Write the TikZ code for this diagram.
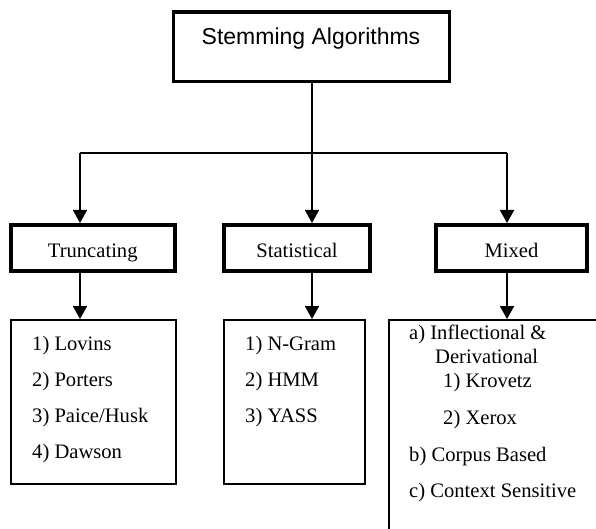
\documentclass[tikz,border=0pt]{standalone}
\usepackage{fontspec}
\setmainfont{Liberation Serif}
\newfontfamily\arialfont{Liberation Sans}
\usetikzlibrary{arrows.meta}
\tikzset{
  topbox/.style={draw, line width=3.5pt, minimum width=276pt, minimum height=69.5pt, inner sep=0pt},
  catbox/.style={draw, line width=4pt, minimum height=46pt, inner sep=0pt, text height=18pt, text depth=0pt, font=\fontsize{20.6}{24}\selectfont},
  listbox/.style={draw, line width=2pt, minimum height=164pt, inner sep=0pt},
  item/.style={anchor=base west, inner sep=0pt, font=\fontsize{20.6}{24}\selectfont},
  conn/.style={line width=2pt},
  arr/.style={line width=2pt, -{Triangle[length=13pt, width=14pt]}}
}
\begin{document}
\begin{tikzpicture}[x=1pt, y=-1pt]
\useasboundingbox (0,0) rectangle (596,529);
\clip (0,0) rectangle (596,529);
% top
\node[topbox] (top) at (311.5,46.75) {};
\node[anchor=base, inner sep=0pt, font=\arialfont\fontsize{23}{27}\selectfont] (title) at (311,45) {Stemming Algorithms};
% categories
\node[catbox, minimum width=164.5pt] (trunc) at (92.75,248) {Truncating};
\node[catbox, minimum width=146pt] (stat) at (297,248) {Statistical};
\node[catbox, minimum width=151pt] (mixed) at (511.5,248) {Mixed};
% lists
\node[listbox, minimum width=165pt] (lov) at (93.5,402) {};
\node[listbox, minimum width=141pt] (ngl) at (294.5,402) {};
\node[listbox, minimum width=221pt, minimum height=240pt] (mxl) at (499.5,440) {};
% connectors
\coordinate (jL) at (80,153);
\coordinate (jC) at (312,153);
\coordinate (jR) at (507,153);
\draw[conn] (jL) -- (jR);
\draw[arr] (jC |- top.south) -- (jC |- stat.north);
\draw[arr] (jL) -- (jL |- trunc.north);
\draw[arr] (jR) -- (jR |- mixed.north);
\draw[arr] (jL |- trunc.south) -- (jL |- lov.north);
\draw[arr] (jC |- stat.south) -- (jC |- ngl.north);
\draw[arr] (jR |- mixed.south) -- (jR |- mxl.north);
% list items
\node[item] (l1) at (32,350) {1) Lovins};
\node[item] (l2) at (32,386) {2) Porters};
\node[item] (l3) at (32,422) {3) Paice/Husk};
\node[item] (l4) at (32,458) {4) Dawson};
\node[item] (s1) at (245,350) {1) N-Gram};
\node[item] (s2) at (245,386) {2) HMM};
\node[item] (s3) at (245,422) {3) YASS};
\node[item] (m1) at (409,339) {a) Inflectional \&};
\node[item] (m2) at (435,363) {Derivational};
\node[item] (m3) at (443,387) {1) Krovetz};
\node[item] (m4) at (443,424) {2) Xerox};
\node[item] (m5) at (409,461) {b) Corpus Based};
\node[item] (m6) at (409,497) {c) Context Sensitive};
\end{tikzpicture}
\end{document}
